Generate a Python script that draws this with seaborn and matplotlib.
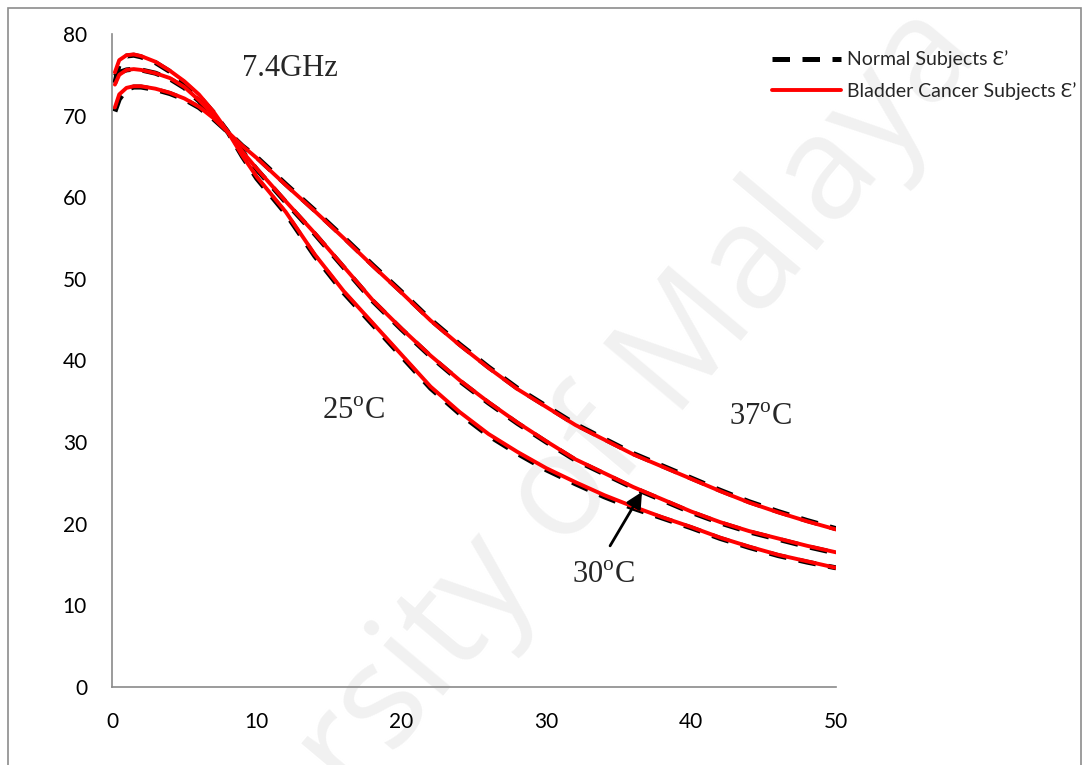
import numpy as np
import pandas as pd
import seaborn as sns
import matplotlib
matplotlib.use("Agg")
import matplotlib.pyplot as plt
from matplotlib.patches import Rectangle
from matplotlib.lines import Line2D

# ---------------- data ----------------
freq = [0.2, 0.5, 1, 1.5, 2, 3, 4, 5, 6, 7, 8, 9, 10, 12, 14, 16, 18, 20,
        22, 24, 26, 28, 30, 32, 34, 36, 38, 40, 42, 44, 46, 48, 50]

cancer_25 = [75.3, 76.8, 77.4, 77.5, 77.3, 76.6, 75.5, 74.2, 72.6, 70.5, 68.0, 65.1, 62.5,
             58.2, 53.0, 48.5, 44.6, 40.7, 36.8, 33.7, 31.0, 28.8, 26.8, 25.1, 23.5,
             22.1, 20.8, 19.6, 18.3, 17.2, 16.2, 15.4, 14.6]
normal_25 = [74.0, 76.3, 77.3, 77.4, 77.2, 76.5, 75.4, 74.0, 72.4, 70.4, 68.0, 65.0, 62.3,
             58.0, 52.8, 48.3, 44.4, 40.5, 36.6, 33.5, 30.8, 28.6, 26.6, 24.9, 23.3,
             21.9, 20.7, 19.5, 18.2, 17.1, 16.1, 15.3, 14.6]

cancer_30 = [73.8, 75.0, 75.6, 75.7, 75.6, 75.2, 74.6, 73.5, 71.9, 70.1, 68.0, 65.6, 63.5,
             59.5, 55.6, 51.5, 47.4, 43.9, 40.6, 37.6, 34.9, 32.4, 30.1, 27.9, 26.2,
             24.5, 23.0, 21.5, 20.2, 19.1, 18.2, 17.3, 16.5]
normal_30 = [74.8, 75.3, 75.6, 75.7, 75.6, 75.2, 74.5, 73.4, 71.8, 70.0, 68.0, 65.6, 63.4,
             59.4, 55.5, 51.4, 47.3, 43.8, 40.5, 37.5, 34.8, 32.3, 30.0, 27.8, 26.1,
             24.4, 22.9, 21.4, 20.1, 19.0, 18.1, 17.2, 16.4]

cancer_37 = [71.0, 72.6, 73.4, 73.6, 73.6, 73.3, 72.8, 72.1, 71.1, 69.7, 68.0, 66.3, 64.8,
             61.5, 58.3, 55.0, 51.6, 48.3, 44.9, 41.9, 39.1, 36.5, 34.3, 32.1, 30.3,
             28.5, 27.0, 25.5, 24.0, 22.6, 21.4, 20.3, 19.3]
normal_37 = [70.5, 72.0, 73.2, 73.5, 73.5, 73.2, 72.7, 72.0, 71.0, 69.6, 68.0, 66.3, 64.9,
             61.6, 58.4, 55.1, 51.7, 48.4, 45.0, 42.0, 39.2, 36.6, 34.4, 32.2, 30.4,
             28.6, 27.1, 25.6, 24.1, 22.7, 21.5, 20.4, 19.4]

x_ticks = [0, 10, 20, 30, 40, 50]
y_ticks = [0, 10, 20, 30, 40, 50, 60, 70, 80]
legend_labels = ["Normal Subjects \u0190\u2019", "Bladder Cancer Subjects \u0190\u2019"]

# ---------------- style ----------------
sns.set_style("white")
plt.rcParams["font.family"] = ["Lato", "DejaVu Sans"]
plt.rcParams["mathtext.fontset"] = "custom"
plt.rcParams["mathtext.rm"] = "Liberation Serif"

fig = plt.figure(figsize=(10.86, 7.65), dpi=100)
fig.patch.set_facecolor("white")

# page border
fig.add_artist(Rectangle((8 / 1086, -0.01), (1081 - 8) / 1086, (765 - 8) / 765 + 0.01,
                         transform=fig.transFigure, fill=False,
                         edgecolor="#8c8c8c", linewidth=1.2, zorder=0))

# watermark (behind the plot)
fig.text(0.475, 0.28, "University of Malaya", rotation=50, fontsize=104,
         color="#f1f1f1", ha="center", va="center", family="Open Sans", zorder=0)

ax = fig.add_axes([112 / 1086, 1 - 687 / 765, (836 - 112) / 1086, (687 - 34) / 765])
ax.set_facecolor("none")
ax.set_zorder(2)

curves = [(normal_25, cancer_25), (normal_30, cancer_30), (normal_37, cancer_37)]
for normal, cancer in curves:
    df = pd.DataFrame({"f": freq, "n": normal, "c": cancer})
    sns.lineplot(data=df, x="f", y="n", ax=ax, color="black", linewidth=3.6,
                 linestyle=(0, (3.5, 2.5)), estimator=None, sort=False)
for normal, cancer in curves:
    df = pd.DataFrame({"f": freq, "n": normal, "c": cancer})
    sns.lineplot(data=df, x="f", y="c", ax=ax, color="#ff0000", linewidth=2.8,
                 estimator=None, sort=False)

ax.set_xlim(0, 50)
ax.set_ylim(0, 80)
ax.set_xticks(x_ticks)
ax.set_yticks(y_ticks)
ax.set_xlabel("")
ax.set_ylabel("")
for s in ["top", "right"]:
    ax.spines[s].set_visible(False)
for s in ["left", "bottom"]:
    ax.spines[s].set_color("#8a8a8a")
    ax.spines[s].set_linewidth(1.2)
ax.tick_params(axis="both", which="major", direction="out", length=6, width=1.2,
               color="#8a8a8a", labelsize=15, labelcolor="black")
ax.tick_params(axis="y", pad=12)
ax.tick_params(axis="x", pad=12)

# annotations
serif = ["Liberation Serif", "DejaVu Serif"]
ax.text(9.0, 75.8, "7.4GHz", fontsize=22, family=serif, va="center", ha="left")
ax.text(14.5, 33.7, "25$^{\\mathrm{o}}$C", fontsize=22, family=serif, va="center", ha="left")
ax.text(42.6, 33.0, "37$^{\\mathrm{o}}$C", fontsize=22, family=serif, va="center", ha="left")
ax.text(31.8, 13.7, "30$^{\\mathrm{o}}$C", fontsize=22, family=serif, va="center", ha="left")
ax.annotate("", xy=(36.7, 24.2), xytext=(34.3, 17.0),
            arrowprops=dict(arrowstyle="-|>", color="black", lw=2, mutation_scale=24))

# legend
handles = [Line2D([0], [0], color="black", lw=3.6, linestyle=(0, (3.5, 2.5))),
           Line2D([0], [0], color="#ff0000", lw=2.8)]
leg = fig.legend(handles, legend_labels, loc="upper left",
                 bbox_to_anchor=(755 / 1086, 1 - 33 / 765), frameon=False, fontsize=14,
                 handlelength=3.5, handletextpad=0.35, labelspacing=0.7)
leg.set_zorder(3)

fig.savefig("out.png", dpi=100)
